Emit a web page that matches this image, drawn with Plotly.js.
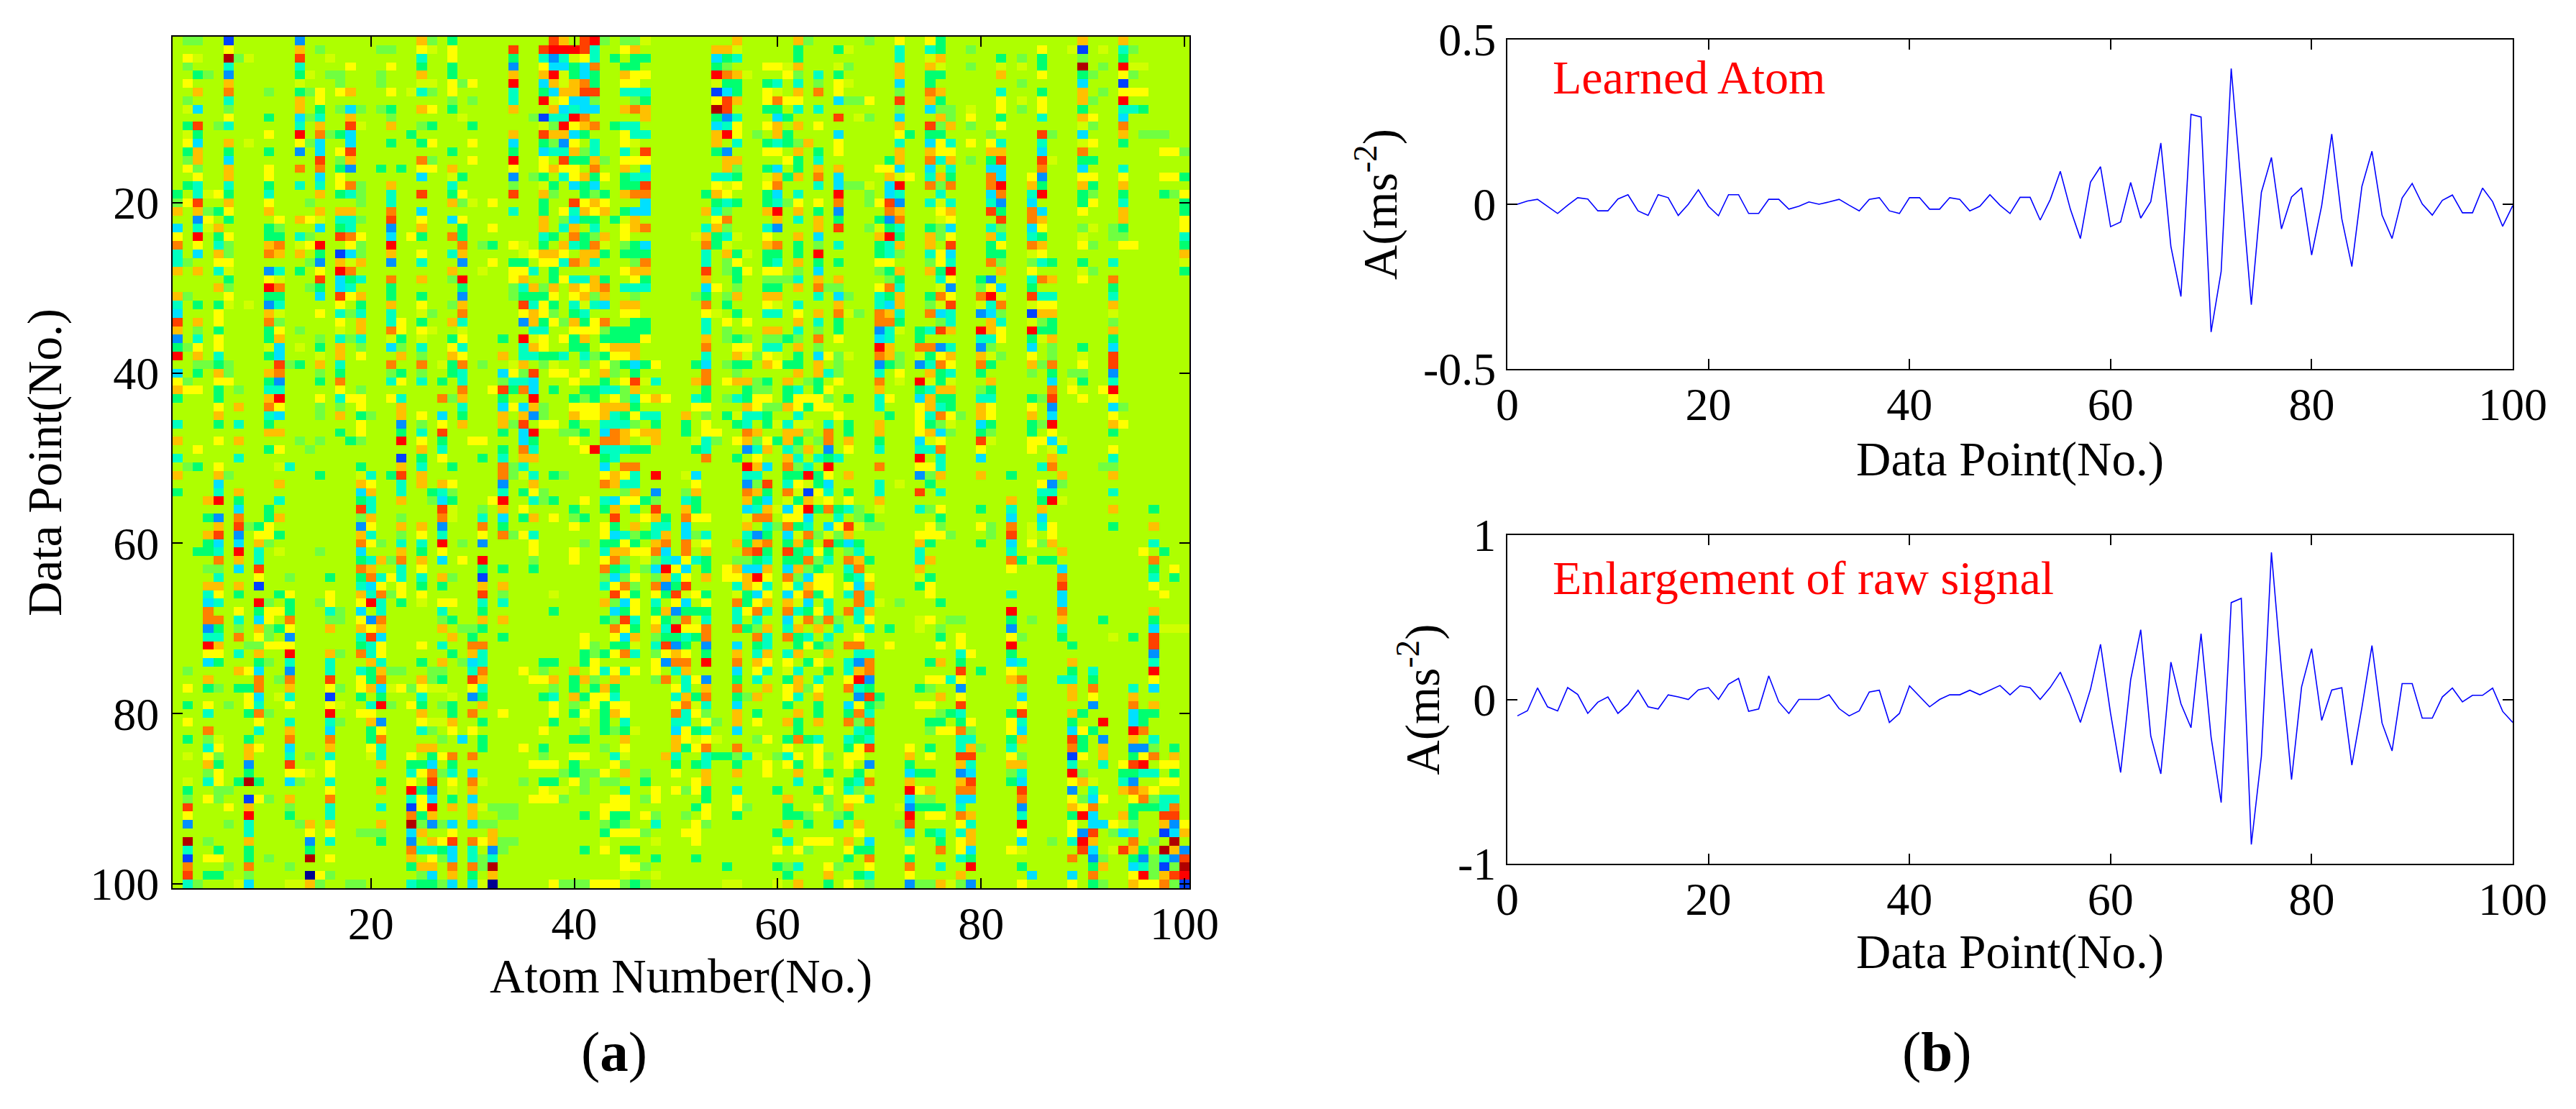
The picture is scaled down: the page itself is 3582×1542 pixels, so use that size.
<!DOCTYPE html>
<html><head><meta charset="utf-8">
<script src="https://cdn.plot.ly/plotly-3.0.1.min.js"></script>
<style>html,body{margin:0;padding:0;background:#fff}#c{width:3582px;height:1542px}</style>
</head><body><div id="c"></div>
<script>
// Colour levels of the image cells
const levelCodes = "nbackgl.yYoOrRd";
const levelColors = ["#000090","#0040ff","#0090ff","#00e0ff","#00ffc0","#00ff70","#70ff40","#aeff00","#d0ff00","#ffff00","#ffc000","#ff8000","#ff4000","#ff0000","#b00000"];
const baseLevel = ".";
// Cells that differ from the base level: column number followed by level code, one string per row
const cellsUpperLeft = [
"2l3l6b13a25o26l28g38r39o41r42R43l45l46l47y",
"6Y13o15l21l22l25Y26y28Y34r37r38R39R40R41r42k45Y46o",
"2Y3y6d7l8y13r16y25k28Y34g37k38a39k40y41Y42k44g46g47g",
"2l6k13k18Y22Y25g28g34a37Y38c39c40g41c42O45g46g",
"3g4l6a13g14y16l17l21l25o28g34o37o38R39y40g41c42g45o46Y47Y",
"2Y6o13y17l21l25y26y28Y29l30Y34R37c38o39y40o41O42g45Y46Y",
"3o6O10l13g14l15Y17Y18o22Y24y25k26l28Y34k37g38c39o40o41r42r45k46k47k",
"2l6k13o15Y28l30l34k37R38y39Y40c41c42l46l47g",
"2y3c6l13o15g17l18c19l21l22g25o26Y28g34o38o39c40k41c42c45o46O47o",
"6Y10g13c14l15k18o22l29y36l37b38k39k40R41O47o",
"2g3r5l6k13k15o18r19y22o25l26g30g37y38l39R40Y41o42O44g45k46k",
"2y3g10Y13R15O16l17g18c24g34o37r38o39o40c41g45Y46k47k",
"2Y3c6o8y13Y14l15c18c22g25g26Y30Y34c37g38l39a40Y42k45Y46y",
"2g3o6g10g13a15c17Y18r28g34g37c38k39k40o41l42k45k47r",
"2l3o6c15r17l18o25O26l30Y34R37Y39r40g41g42o43l45Y46Y47Y",
"2Y3l6o10Y13O15O17g18a21g23g25Y26Y28o34Y37Y38o39Y40Y42O45o47c",
"3Y6o10Y15c17Y25c28y29g34a36l37g39k40Y41o42g43Y45g46k47k",
"2g3k6k10g13k15k17Y18O19l22o28k34l37y38g40c41g42c45g46g47r",
"1g3k4y5Y6g10k15o17g18k19l22k25r28g29Y34r37o38l41g42l43g45o46O47O",
"1l2Y3r6o10Y14l19l22k28o29l30y32Y37g40r41Y42o43Y47c",
"1o3o4l5g6Y10o15o17o18o22O25c34k37g39Y40k41o42Y43o45g46c47c",
"3a4Y6g11Y13o14Y15y17k18k19l22r25Y28c29Y37o39l40c41g42g44g45y46o",
"1c3k4y5o10g11l15c17g18k22a25o29g32Y37o39k40o42k45Y46o47O",
"1Y3R5g6Y10g11g13k14l17r18O19Y22c24Y25g28O29g37k38g40O41g42l43o45Y",
"1O3Y5k6l10o11O13y14Y15R18Y19l22R29O31l32g34Y35y37g39o40k41g42O43y45l46g47c",
"1k3c5o6l10O11o13o15g17b18c19l22o25Y28k29o35y36Y37o38o39Y41o42o43g45g46g47g",
"1k2l5Y6Y14l15a17o18y19o22a25k29a32Y34g35g37Y38Y39k40O41o42k46l47O",
"1o3o5k6y10a11k13g15Y17R18O28o31y34Y35Y36k38g45Y46o47o",
"6g10Y11y15r17c18g19k22O25o28l29R34Y35o38g39Y40k41k42o43g46Y47g",
"5o6l10R11O14l15g17c18k22g29g34l35k36o37l38o40o41Y42o43O45k46k47k",
"1o2l6Y10g11g15c17r18Y19o22g25g29a34l35g36g37g38Y40Y41o42l43o46l",
"1k3g5g6y8y10a11k17Y19g22o25Y28l29o35r36k37Y38g40k41y42k43c45o46o",
"1c5Y10o11y15Y17k18l19k22k25y26l29O35Y36o37Y38l40g41k45Y46Y",
"1r3o5Y10O11l17Y19o22k23Y25g28o29k35a36o37g38Y39l40o41g42Y43O46g47g",
"1o3l5g10g11Y13l17y19o22O23Y25Y26y29y36k37k40Y41Y42Y43l44g45g46g47g",
"1a3k5Y10g11o15l17k18l19k22y23g25y28g29Y33g35R36y37Y39Y40g41o43g44g45g46g47Y",
"1g2l3Y5Y10y11c13y15g17o19l22c23l25k28Y29k35k36o37Y40g41g43Y44o45o46o",
"1R3o5k10g11c15y17o19Y23o25l28o29Y33o35k36k37g38g39k41k42l43g44Y45Y46o",
"3l4l5g6l11r12l13g15o17k22O25O27y28g29O31l34y35o37l38y41l43Y44l45g46c47g48Y",
"1c3g5o6l10o11O15l17g22l23g25l28g29k33c34Y35l36r38Y39Y41Y43o44l46g",
"1Y2l5Y6Y10g11a15g17O22k23Y25k27g29k33l34k35k36c40Y43g45Y46r47y48k",
"1o2Y3Y5g7l10k11k17Y19l29O32Y33r34g35O36c38g41g42g43k44k45l46o",
"1g5g10o11R15Y17k18Y19Y22Y23k27O28l29o33g36R40g41l42g44Y45l46k47Y48o49Y",
"5Y7o10O11Y15l17l19Y23o29k33c34Y35c36o37l40Y41Y42Y43o44o45o46g",
"5o10k11c15l17o19g20l23o25Y27c29g33o35o36a37l40o41Y42Y43o44k45g46Y47k48k",
"1k5g7k10g19Y23a25l27Y29o33o34l35r37Y38Y40g43k44k45k46l48g",
"10o11o17g19Y23g25k27r33g35c36R39l40l41g43c44O45o46Y47o48o",
"1o5Y7o13l15l18g19l23R25Y27g30Y31Y35c36g40Y43O44O45o47y48o",
"3Y10g11Y14l25o27k33g35O36k41Y42R43k44k45k46g47g",
"1k7k23b25g27Y31g33k35o36o43g44k"
];
const cellsUpperRight = [
"56o62o63l69l72Y75Y76g90o94o",
"54o55o56y62g66g67y72k75k76g79l86Y89y90b92y94k95l",
"54c55g56k62g72k75y76o82g84l86g90l94g",
"54g55l59Y60Y61y62o66y67l72o75o76y79l82y84y86g90d92l94R95y96y",
"54R55O56o57y61Y62l64k66g72o75g76g82o86Y90g91l94Y95l",
"54y55g56g59g60k62k64l66Y67y72c75g84l90c94b",
"54b55c56g59Y60y62o64O66Y72l75O76o82k86g90o92l94Y95Y96Y",
"54Y55r56o59Y60O61Y62Y66c67l68l69Y72r75o76g82Y84y86Y90o91l94R",
"54d55r59g60g62k64k72l75c76l77l79y82Y84l86Y90g94k95k96g",
"54g55a56k60c61g66r68y69l72c76o77l79Y82g86k90o91Y94c",
"54c55k56Y59Y60o62o64Y72o75r76l77o79l82Y90y91l94O",
"54o55R56Y58l60o61g66c72Y73g75g76g81l86r87l90c94o96l97l98l",
"54o56k59g60k61g62l63o66Y72k75c76Y77k79Y81Y82k86k90y91Y94g",
"54g55a59Y60Y62o64g66Y72o75o76Y77Y81o82o86c90O98Y99Y100l",
"55o56o61Y62g64k71g72o75O76k77o79l81g82r86r87y90g91g",
"55o56l59g60c62g64o66o70Y71Y72c75c77k81c82c86O90c94k",
"54k55k56g59y60o61g62o64O66c71o72y73Y75k76o77g81O82c85Y86a90Y91Y94Y98Y99Y100g",
"54Y55y56Y59Y60O64k66c67l68l69y71c72R75O76l77O81O82R85o86g90o91g94o",
"53g54o55Y59g60c62k66R69l71c72k76k81c82O85k86R90g91l94g98g99l100Y",
"54g55k56g59g60k61l62Y64Y66O69l70Y71r72a75k76y77k81k82a85c90g91Y94k100g",
"53o54k55l59o60R62o64g66a71O72o76Y77o81r82g85O86c90Y94o100g",
"54Y55O60o62k64o66g70g71a72O76y77Y82r85O86o94o100Y",
"53k54o55l59k60a64o66r69l70y71g72k75g76l77c81k82l85c86Y90l91y93l94g100Y",
"52y53o54g55k56y59Y62o64c70o71R72g75o76l77Y81o82k85k86g90y93l94l100k",
"53O54g55y59o60O62g64l66k70g71k72o75o77r81g82Y85O86o90Y91l94Y95Y100g",
"53k55o56g57y59g60g62g64R70g71k72l75k76Y77c81g82g85y86Y100o",
"53k55l56Y59g60k62o64g66g70Y71Y75l76Y77k81O82l85l86k87g90g93k100y",
"53r55l56g57Y59Y60Y62l64c70l71g72o75o76g77R82o85Y90y91l100g",
"53o56g59l60l61l62k64o66o71l72g76k77Y80g81a85k86O87o90Y93O",
"53c54Y56l59g60g62o64O65l66l70Y71O72k76y77a80l81Y82c85g93g",
"52l53g55l56o59o60o64k66c67l70k71g72o75g76O77Y80O81R82y85r86k87k93k",
"53O55g59Y60y62k66o70k71c72o75l76y77r80y81k82O85y86Y87Y93o",
"53Y54y56g59k60k62Y64o66O67y68l70O71o72k75O76c77k80a81c82l85b86o87o93y",
"53k55Y57Y62o64k66g70O71O72g76l77k81o82k85y86l87g93l",
"53k55l59o60o62k64l66g70a71k72y74g75k76r77o80R81o82Y85R86g87g93o",
"53o55l56g57l59l60l61g62l64O66Y70c71k74g80k81k82Y85g86y87o93g",
"53O56Y57Y59k60k62o64l70R71o74O75O76a77k80a81l85c87l90g93c",
"53k56o57y58l59Y60y62g64c65Y66l67y70O71o72l74y75g76Y77o80o81y82l85Y87l90y93r",
"52g53c55l56g57g59o60Y61g62g64o66l70a71g72l74a75k76O77Y80O81g85o86l87O90Y93r",
"53O56l62o64o65k66l70k72Y75o76g77k80g85l87g89l90l93a",
"52o53O55Y56o57o58l59g61o63l64g66Y70O72y74R75y76g77y81o87c89y90g93k",
"53g57g58l59l61g62k64g65Y70o74g75k76o77o80l81g87O89Y92Y93R",
"52k53g55l56k57g58Y59Y61g62Y63Y64Y65l67g70k71Y74c75o76g77g80k81k85g86l87r90Y93Y",
"52Y53Y57o58Y59l60l61o62Y63g64Y65Y70k74Y75o76k77g80o81Y85Y87a93c94l",
"51o53l55g56y57k58k59g62k66Y71g74Y75k76O77Y78l80o81Y85o87c93Y",
"51g53Y56g57k59g60y61k62y63y65k67g70o74Y75g76l77y80c81g85g86l87R93o94Y",
"51g53Y54Y57O58o61o62o63l65O67g70o74Y75o76c77l80g81l85g87Y93g",
"52y53k54l56Y57o58l59Y60g61o62g64l65O67o70g74c75y76Y80r81y85Y86Y87c88y",
"52g53k57a58k59o61k62l63o65a67Y70k74k75k76O80Y85Y87y88k93Y",
"53O56g58Y61o62k64k65g66k74R76k80c87o93k"
];
const cellsLowerLeft = [
"2l3g5Y11y12k19g23o25k28g33O34l35k43c45O46O",
"1o5o6l15g19y20k22g23r25o33O34l35y36k38g39l43Y44o45Y46k48R",
"5c11o19o20Y23k25o27o28Y33a36o43O44o45k46k",
"1g5k7o19c20o23k26g27k28l33k35g36Y37l45l46o48a",
"4o5R7g11k19g20k23o26l27c28g32Y33R36k37l38g41Y43k44c45Y46Y47g48l",
"7c10g19r20k27r28y31l33o35Y40g43g44o46k48r",
"4g5a7O10g11o19l20o23l27O28y31k33c35g36o38Y40l41g44r47Y48o49g",
"5o7r8l9g10Y19a20Y23o25o27a31O33g40Y43Y44g46o48k49k",
"4o5r7a9Y10Y11g19o20k23l25Y27k31Y33O34l35Y36k43Y44c45k46l47g48k",
"4g5c7c9o10l19O20Y21l23k25k27R29l31a36Y41l43g44g45Y46g48o49O",
"3g4g5k7R9k11y15l19c23o25g27Y36Y40Y43k44o45o46Y47Y48O49c",
"5O7o9k19g20k21o22l23O25o27c29Y31R36l40Y43Y44O45l47y48l49k",
"4l5l7c9r19O20o23k25Y31g33g36g43O44g45k47l48c49R",
"5k9Y12l16g19g20O21k22Y23k25k27o28l31b43l44c45l46Y48l49o",
"4o5o7o9b19k20c21Y23Y25g27g31o33o43k44Y45O46l48O49a",
"4k5Y7g11g12Y16Y19o20k21O22l23Y25Y31r33l38y44r45Y46g48Y49g",
"4c5k9R10l12g15l16Y19Y20R21k23g25y27Y28Y31k33k43o44l45c46Y48k",
"4O7Y9g10Y11Y12g16k17l19c21k27k31g38g44c45g46Y48g49o",
"4O5O7k9c10Y12O16l17l19Y20a21O27l28g31o33o43g44l45r46k48Y49g",
"4a5g7l9o10l11g12Y16o19o20Y21o27o29l30l31g44O45Y46g48o49k",
"4k5k7O9Y10l12a19k20r21c28o30g33g41Y44Y45c46o48l49g",
"4R5o8l9l10Y11Y12Y19g20k21Y25Y27k30O31O41Y42l44g45g46y48k49r",
"4Y5Y7k9o12R16o17l19O20k21Y28g30o31k41g42l43g44Y45O46k48l49Y",
"4c5g9g10l12k16k20o21k25g27o29l30c31k37g38g41g42Y48Y49c",
"2l7o8Y9c12a16k19k20g21o22l23l26l27l30k31O35Y37l40o42Y43k44Y45k46Y48Y",
"4o9O11l12O16r19Y20g21O25o26l27g30r31o36Y37Y38o40g41o42l44o48l49O",
"2Y4g5l7g8g9O12o16Y17l19Y20o21c22y23Y24l25Y26y27y30Y31k38l40g42g43o44g",
"8Y9c11y12k16b19g21g25k28y30a31g37g38k40o41g42Y43Y44k",
"2g4Y6l8Y9k12Y16Y17y20k21R22l24Y25g27l28g31o38Y40l42Y43g44Y45Y",
"4k8g9O10l16R19Y20Y25o28g30O33Y38Y40g41Y43g44o45Y",
"2Y9Y12k16k17l20o21a25Y26y27y28o31g38g41y43g45k",
"4O9k12o16c20g21Y25k26l28Y30Y37Y41l43g44l45g46y",
"2g4l5y8g12O16O20g21O27l29c31g40g41g45o",
"4k5Y8o9Y12c16o20Y21k25o26o31g35Y37g43l45Y",
"2y4Y5l8o12k14l16k20y21k24Y26g27Y28O30O37l40Y41Y44k45y49o",
"4o5g8a12r16Y21o24g25g26c28g36Y37Y38Y40g44Y45l",
"4l5Y8g12Y13Y14y16Y24k25Y26O27l28k30c39l40g41l42l43Y45o47l",
"2y4k5Y7g8d9g12c13l16k21g24Y26r28Y30O31y35l37g38g40Y41l43l44l47g",
"2g5l6l16Y21o24R25g26a28y30o37Y38y39y41l45k48Y",
"2l4Y5l8b9Y10l12o16O24k25Y26c28g30c36Y37Y38Y39l44Y45Y47l48Y",
"2r6Y8o12l16k21k24b25Y26R28o30o31y32l33l34l43Y44Y45Y",
"2Y8R12g16k24O25g26o30o33l34l41g43Y44g45g47Y48l",
"2a6l8k13l14o16o21o24d25l26a27l28c30c31l32l43l44g45l48k",
"8k14Y16Y19l20l21l24c25o28Y32o43g44Y45Y46Y47l",
"2d4l8o14a16k21g24a26o27Y28r30O31Y32o33l34l43y48y",
"2k5g8g14g24O25k26k27g28c30k32a33l41g43Y45g46g",
"2b4Y5Y8g10l14d16Y24o26Y27l28c30k31l32k45Y48g",
"2O6l8O12l24g25o26o28O30O31l32d45Y46Y47l",
"2r4g5g8l14n15Y16l25l26c28o30g32o45y48y",
"2k3l7y8c12y13y14o15l18l19l24k25g26g27l28c30c31y32n38Y39l40l41l42Y43Y44Y45l46g47l"
];
const cellsLowerRight = [
"57R58o59c61O62l63k65R70O74Y75Y76k86k87O92l93l",
"51y52c57k58k61g62g63R64g65Y67o74a75l76o80o83g88o93o",
"52Y57a58l59r61k62Y63y64g65c70k72y75g86Y87a88l",
"51l52o57O58o59g61O62y63b64Y65k67g70k74r76k86k87k93k",
"51k52g57o58g59c61y62g63o64y65Y67Y70o83o86g87R88y",
"51o52g57c58k59o60y61c62Y63R64g65O66g67k68l70y74k75l76Y80g83k86o93o97g",
"51O52Y53Y57y58O59O61Y62Y63c66k68l69g76g83c86c",
"51c57o59k60l61O62g63k65c66Y67r68y69l70l75Y76l80Y81l83O85y86k87Y93g97o",
"49o51c52l53k57k58a59g61c62y63O64l65y66l67o74Y75Y76Y77l81l83r85y87Y",
"51O52y53Y56o57g58o59O61g62o63g65r66g67c68g74o75g80g83c85Y86l87o97k",
"49c51O53o57O58r59g61r62g63k64Y65g67l68k74k83k88o96Y98g",
"50c51Y52k53g56l57l58g59k61g62g63O64l65k67O68o69g74k75o83O84g85y86g87g97O",
"49R50Y51c53g55Y56o57c58c59o61c62o63l64g67k68O74o83Y88c97g99Y",
"49o50k51Y53o55Y56Y57o58R59Y61O62l63c64Y65Y67g68k69Y74y75g88O97k99g",
"49a50g51r56k57o58Y59k61Y62k63o64Y65Y67Y68c69o74g75Y88r97Y",
"50r51y52Y53g56y57g58c59Y61c62Y63O64g65Y67k68O69k75Y83k88c98Y",
"50Y51c53Y56O57g58Y59o61o62y63c65k68O69k70y72l76g88c",
"50a51g52g53g56k57Y58O59k61O62k63g64Y65k67O68k69o83R88O97o",
"50l51O52y53k56k58k61c62y63O64l65O66l68k69Y74y75Y77l78l83g85l88o92g97g",
"50R51Y52Y53O56O57g58l59o61k62o64o66k69k71g74y76l83a88k97c98y99y100y",
"50g51k52g53O58O59k61O62g63k65k68Y76g78Y83Y84l88g93y95g97r",
"49r50a51g53a56c58g59k62g63Y64g65l67O68O71Y76Y78Y83R89g97r",
"50o51Y53g56o58k59o61k62o65o68k69k78k79Y83g97a",
"49a50O51O53R56O58o59Y61Y63g64Y67k68a69O75g76o78g83c84k89o97k",
"50k51o56c58Y59k61y62k65g67k68o69O78r80g83Y89g91k97R",
"49O51k52Y53a56g58k61g62o64k67Y68R69a75Y76Y77k78Y83o84O88k89k91g97Y",
"50Y51k53o56O59o61Y62o63l64Y67O68k69g74g75l78a84l89o91O95k97c",
"50k51o52g53O56g57l58o61Y62k64o68a69r70g76o78Y84c89o91Y95o",
"50Y51O52y53k56c61g64g67c68Y69g70l74Y75Y78r84Y91a95O97o",
"50O51k52Y53l56o58g62o64g67g68O69k76l77g78k83g84r89o90g95c96g97g",
"50k51k53Y54l56o58Y61o62g64o67O68l69O75g76g78g79Y83Y84k89g92R95c96g",
"50c51Y52g53k56c62g68k69g75l76Y77Y78O79l83Y84c89c90Y91g95R96O",
"50o51Y52y53Y54y58l59Y61g62O63g64k67k68g69k78k79k83g84o89r90g92a95o97k",
"50o51g52Y53O56O61Y64Y67g68Y69r73Y75g78k79o80l83k89O90g92o95a96a97l99g",
"50k53k54g55g56l57k58y60l61k62Y64Y65l67Y68Y73o75Y78r79r83Y84l89b90Y92o95g96Y97O99o",
"50g52g53k56g59Y61Y62g64Y67Y69a73g78o79k83o84o89k92k94Y95r96R98Y99Y",
"50Y53o56o59Y62o65g68g69y73c74g75g78a79c83l84k89R90l94g95g96k97k99g",
"52Y53o62k65y67g68k69O73o78o79r83g84c89Y90o91y94k95a98Y99Y",
"50Y51l52Y53g56k60g64g65Y67k68l73R74Y75o78O79O84r89a91k94o95O96o97Y",
"53g56Y61o65l67Y68Y69k73c74l75l78c79c84O89Y90l91c92Y95Y96O97l98k99k",
"52g53Y56Y57l61g64Y65l67o72y73a74g75g76g78k84a89o90Y91O95g96g97g98k99O",
"51l53Y56g61g62g63l66l67g73R75Y76Y78O79o84k89g90R91c94o95g98r99r",
"52Y53l61o63g66c68o72l73r78Y79k84R89Y91c92c93Y94y95l98o99a100Y",
"51Y52Y60g68Y73c75g76k78k79o84Y89Y90a91r93l94c95k98b99c100o",
"52Y61k63Y64Y65Y67o69c73l76g78Y79o84c87l89k90R91o95O97l99d",
"60Y62Y63l67Y68g69g73Y76O78Y79c83Y84y90r91c93y94r95o96g98d99o100a",
"52g67g69O73g78k79g89O91a92l95g96a97l98k99a100r",
"55g60g61l62k65Y66l69Y73O76k79R84g91g92o95c96k97l98b99l100d",
"61g65o68g69k73Y78o85c89c91O95Y96R97l98o99r100R",
"55y56y60y62o65g67Y69l73a74l75l76o77y78l79a84Y89Y91g92l95o96Y97Y98O99l100b"
];
// Learned atom and raw signal
const pointNumbers = [1,2,3,4,5,6,7,8,9,10,11,12,13,14,15,16,17,18,19,20,21,22,23,24,25,26,27,28,29,30,31,32,33,34,35,36,37,38,39,40,41,42,43,44,45,46,47,48,49,50,51,52,53,54,55,56,57,58,59,60,61,62,63,64,65,66,67,68,69,70,71,72,73,74,75,76,77,78,79,80,81,82,83,84,85,86,87,88,89,90,91,92,93,94,95,96,97,98,99,100];
const learnedAtom = [0,.01,.015,-.006,-.028,-.003,.02,.016,-.02,-.02,.016,.029,-.02,-.034,.029,.02,-.034,0,.044,-.006,-.035,.029,.029,-.028,-.028,.015,.015,-.015,-.006,.007,0,.007,.015,-.003,-.02,.015,.02,-.02,-.028,.02,.02,-.015,-.015,.02,.015,-.02,-.006,.029,-.003,-.028,.021,.021,-.048,.014,.10,-.015,-.104,.067,.114,-.068,-.054,.066,-.042,.008,.186,-.128,-.28,.273,.265,-.388,-.204,.412,.057,-.305,.036,.142,-.075,.022,.05,-.154,-.004,.213,-.044,-.189,.054,.161,-.033,-.104,.019,.063,.001,-.033,.012,.028,-.026,-.026,.049,.008,-.067,-.004];
const rawSignal = [-.10,-.069,.07,-.045,-.07,.072,.03,-.085,-.017,.015,-.085,-.03,.056,-.045,-.058,.028,.015,0,.058,.072,0,.093,.128,-.072,-.058,.143,-.015,-.085,0,0,0,.028,-.056,-.10,-.07,.045,.056,-.14,-.085,.082,.02,-.045,0,.028,.028,.056,.028,.056,.085,.028,.083,.071,0,.073,.166,.025,-.14,.061,.335,-.085,-.445,.12,.424,-.223,-.453,.227,-.026,-.172,.40,-.23,-.628,.589,.615,-.883,-.347,.895,.178,-.488,.076,.309,-.128,.057,.071,-.40,-.05,.328,-.143,-.313,.096,.096,-.114,-.114,.015,.069,-.015,.025,.025,.069,-.073,-.14];
const gridTicks = [20,40,60,80,100];
const panelTicks = [0,20,40,60,80,100];

const baseValue = levelCodes.indexOf(baseLevel);
const cellRows = cellsUpperLeft.map((s,i)=>s+cellsUpperRight[i]).concat(cellsLowerLeft.map((s,i)=>s+cellsLowerRight[i]));
const z = cellRows.map(s=>{
  const row = pointNumbers.map(()=>baseValue);
  for (const m of s.matchAll(/(\d+)([a-zA-Z])/g)) row[+m[1]-1] = levelCodes.indexOf(m[2]);
  return row;
});
const colorscale = levelColors.map((c,i)=>[i/(levelColors.length-1),c]);

const W=3582,H=1542;
const dx=(a,b)=>[a/W,b/W], dy=(t,b)=>[1-b/H,1-t/H];
const FONT="Liberation Serif, Times New Roman, serif";
const TICK=64, TITLE=67;
const common=(o)=>Object.assign({showgrid:false,zeroline:false,showline:true,linecolor:"#000",linewidth:2,mirror:"ticks",ticks:"inside",ticklen:14,tickwidth:2,tickcolor:"#000",tickfont:{family:FONT,size:TICK,color:"#000"},automargin:false},o);
const ttl=(text,standoff)=>({text,font:{family:FONT,size:TITLE,color:"#000"},standoff});

const layout={
  width:W,height:H,margin:{l:0,r:0,t:0,b:0},paper_bgcolor:"#fff",plot_bgcolor:"#fff",showlegend:false,
  xaxis:common({domain:dx(240,1654),range:[.5,100.5],tickvals:gridTicks,ticktext:gridTicks.map(String),anchor:"y",title:ttl("Atom Number(No.)",12),ticklabelstandoff:-8}),
  yaxis:common({domain:dy(51,1235),range:[100.5,.5],tickvals:gridTicks,ticktext:gridTicks.map(String),anchor:"x",title:ttl("Data Point(No.)",18),ticklabelstandoff:4}),
  xaxis2:common({domain:dx(2096,3494),range:[0,100],tickvals:panelTicks,ticktext:panelTicks.map(String),anchor:"y2",title:ttl("Data Point(No.)",17),ticklabelstandoff:-8}),
  yaxis2:common({domain:dy(55,513),range:[-.5,.5],tickvals:[-.5,0,.5],ticktext:["-0.5","0","0.5"],anchor:"x2",title:ttl("A(ms<sup>-2</sup>)",14),ticklabelstandoff:1}),
  xaxis3:common({domain:dx(2096,3494),range:[0,100],tickvals:panelTicks,ticktext:panelTicks.map(String),anchor:"y3",title:ttl("Data Point(No.)",8),ticklabelstandoff:-8}),
  yaxis3:common({domain:dy(744,1201),range:[-1,1],tickvals:[-1,0,1],ticktext:["-1","0","1"],anchor:"x3",title:ttl("A(ms<sup>-2</sup>)",3),ticklabelstandoff:1}),
  annotations:[
    {xref:"paper",yref:"paper",x:2157/W,y:1-108/H,xanchor:"left",yanchor:"middle",showarrow:false,text:"Learned Atom",font:{family:FONT,size:66,color:"#f00"}},
    {xref:"paper",yref:"paper",x:2157/W,y:1-803/H,xanchor:"left",yanchor:"middle",showarrow:false,text:"Enlargement of raw signal",font:{family:FONT,size:66,color:"#f00"}},
    {xref:"paper",yref:"paper",x:854/W,y:1-1462/H,xanchor:"center",yanchor:"middle",showarrow:false,text:"(<b>a</b>)",font:{family:FONT,size:79,color:"#000"}},
    {xref:"paper",yref:"paper",x:2693/W,y:1-1462/H,xanchor:"center",yanchor:"middle",showarrow:false,text:"(<b>b</b>)",font:{family:FONT,size:79,color:"#000"}}
  ]
};
const traces=[
  {type:"heatmap",z:z,x:pointNumbers,y:pointNumbers,xaxis:"x",yaxis:"y",colorscale:colorscale,zmin:0,zmax:levelColors.length-1,showscale:false,zsmooth:false,hoverinfo:"skip"},
  {type:"scatter",mode:"lines",x:pointNumbers,y:learnedAtom,xaxis:"x2",yaxis:"y2",line:{color:"#0000ff",width:1.6}},
  {type:"scatter",mode:"lines",x:pointNumbers,y:rawSignal,xaxis:"x3",yaxis:"y3",line:{color:"#0000ff",width:1.6}}
];
Plotly.newPlot("c",traces,layout,{displayModeBar:false,staticPlot:true});
</script></body></html>
